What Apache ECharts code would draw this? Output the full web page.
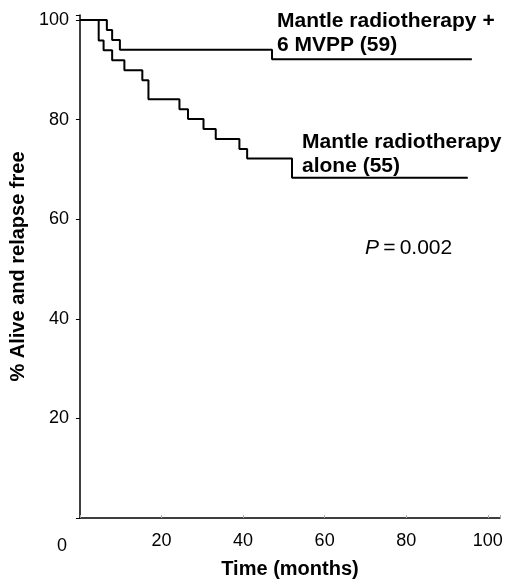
<!DOCTYPE html>
<html>
<head>
<meta charset="utf-8">
<script src="https://cdn.jsdelivr.net/npm/echarts@6/dist/echarts.min.js"></script>
<style>
  html, body { margin: 0; padding: 0; background: #fff; }
  #chart { width: 512px; height: 584px; }
</style>
</head>
<body>
<div id="chart"></div>
<script>
// step points: month at which the curve drops, and the new % value
const comboMonths = [0, 6.6, 7.9, 9.8, 47.1, 96.1]
const comboValues = [100, 98.0, 96.0, 94.0, 92.1, 92.1]

const aloneMonths = [0, 4.6, 5.8, 7.9, 10.9, 15.3, 16.8, 24.4, 26.5, 30.3, 33.3, 39.1, 41.0, 52.0, 95.1]
const aloneValues = [100, 95.9, 93.9, 91.9, 89.9, 87.9, 84.1, 82.1, 80.1, 78.1, 76.1, 74.1, 72.2, 68.3, 68.3]

const xTicks = [20, 40, 60, 80, 100]
const yTicks = [20, 40, 60, 80, 100]

const font = '"Liberation Sans", Arial, sans-serif'

const chart = echarts.init(document.getElementById('chart'), null, { renderer: 'canvas' })

function stepSeries(name, months, values) {
  return {
    name,
    type: 'line',
    step: 'end',
    showSymbol: false,
    silent: true,
    lineStyle: { color: '#000', width: 2 },
    data: months.map((m, i) => [m, values[i]]),
  }
}

chart.setOption({
  backgroundColor: '#fff',
  animation: false,
  textStyle: { fontFamily: font, color: '#000' },
  grid: { left: 77, right: 12, top: 15, bottom: 59, containLabel: false },
  xAxis: {
    type: 'value',
    min: 0,
    max: 103,
    interval: 20,
    name: 'Time (months)',
    nameLocation: 'middle',
    nameGap: 41,
    nameTextStyle: { fontSize: 20, fontWeight: 'bold', color: '#000', fontFamily: font },
    axisLine: { lineStyle: { color: '#000', width: 1.5 } },
    axisTick: { inside: true, length: 3, lineStyle: { color: '#aaa' } },
    axisLabel: {
      color: '#000', fontSize: 18, margin: 14, fontFamily: font,
      formatter: v => (xTicks.includes(v) ? String(v) : ''),
    },
    splitLine: { show: false },
  },
  yAxis: {
    type: 'value',
    min: 0,
    max: 101,
    interval: 20,
    name: '% Alive and relapse free',
    nameLocation: 'middle',
    nameGap: 43,
    nameRotate: 90,
    nameTextStyle: { fontSize: 20, fontWeight: 'bold', color: '#000', fontFamily: font },
    axisLine: { lineStyle: { color: '#000', width: 1.5 } },
    axisTick: { length: 4, lineStyle: { color: '#000' } },
    axisLabel: {
      color: '#000', fontSize: 18, margin: 11, fontFamily: font,
      formatter: v => (yTicks.includes(v) ? String(v) : ''),
    },
    splitLine: { show: false },
  },
  graphic: [
    { type: 'text', left: 57, top: 537, style: { text: '0', font: '18px ' + font, fill: '#000' } },
    { type: 'text', left: 277, top: 9, style: { text: 'Mantle radiotherapy +\n6 MVPP (59)', font: 'bold 21px ' + font, lineHeight: 24, fill: '#000' } },
    { type: 'text', left: 302, top: 130, style: { text: 'Mantle radiotherapy\nalone (55)', font: 'bold 21px ' + font, lineHeight: 24, fill: '#000' } },
    {
      type: 'text', left: 365, top: 238,
      style: {
        text: '{p|P}\u2009=\u20090.002',
        font: '21px ' + font,
        fill: '#000',
        rich: { p: { fontStyle: 'italic', fontSize: 21, fontFamily: font } },
      },
    },
  ],
  series: [
    stepSeries('Mantle radiotherapy + 6 MVPP', comboMonths, comboValues),
    stepSeries('Mantle radiotherapy alone', aloneMonths, aloneValues),
  ],
})
</script>
</body>
</html>
